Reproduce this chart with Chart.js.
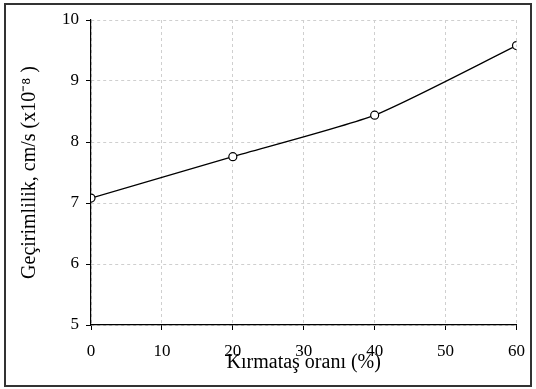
<!DOCTYPE html>
<html>
<head>
<meta charset="utf-8">
<script src="https://cdn.jsdelivr.net/npm/chart.js@4"></script>
<style>
  body { margin: 0; background: #fff; }
  #wrap { width: 536px; height: 389px; }
</style>
</head>
<body>
<div id="wrap"><canvas id="grafik" width="536" height="389"></canvas></div>
<script>
var oranlar = [0, 20, 40, 60];
var gecirimlilik = [7.08, 7.76, 8.44, 9.58];
var xTicks = [0, 10, 20, 30, 40, 50, 60];
var yTicks = [5, 6, 7, 8, 9, 10];

var serif = "'Liberation Serif', 'Times New Roman', serif";

// white page plus the dark frame around everything
var cerceve = {
    id: 'cerceve',
    beforeDraw: function(chart) {
        var ctx = chart.ctx;
        ctx.save();
        ctx.fillStyle = '#fff';
        ctx.fillRect(0, 0, chart.width, chart.height);
        ctx.restore();
    },
    afterDraw: function(chart) {
        var ctx = chart.ctx;
        ctx.save();
        ctx.strokeStyle = '#333';
        ctx.lineWidth = 2;
        ctx.strokeRect(5, 4, 526, 382);
        ctx.restore();
    }
};

var ctx = document.getElementById('grafik');
var chart = new Chart(ctx, {
    type: 'line',
    data: {
        datasets: [{
            data: oranlar.map(function(x, i) { return { x: x, y: gecirimlilik[i] }; }),
            borderColor: '#000',
            borderWidth: 1.2,
            tension: 0.2,
            pointRadius: 4,
            pointBackgroundColor: '#fff',
            pointBorderColor: '#000',
            pointBorderWidth: 1.2
        }]
    },
    options: {
        responsive: false,
        animation: false,
        layout: { padding: { left: 0, top: 20, right: 19, bottom: 0 } },
        plugins: {
            legend: { display: false },
            tooltip: { enabled: false }
        },
        scales: {
            x: {
                type: 'linear',
                min: 0,
                max: 60,
                afterFit: function(scale) { scale.height = 64; },
                afterBuildTicks: function(scale) {
                    scale.ticks = xTicks.map(function(v) { return { value: v }; });
                },
                grid: {
                    color: '#cfcfcf',
                    tickColor: '#000',
                    tickLength: 5,
                    tickBorderDash: [],
                    tickWidth: 1
                },
                border: { display: true, color: '#000', width: 1.2, dash: [3, 3] },
                ticks: {
                    color: '#000',
                    padding: 11,
                    maxRotation: 0,
                    font: { family: serif, size: 17 }
                },
                title: {
                    display: true,
                    text: 'Kırmataş oranı (%)',
                    color: '#000',
                    padding: { top: 0, bottom: 14 },
                    font: { family: serif, size: 20 }
                }
            },
            y: {
                min: 5,
                max: 10,
                afterFit: function(scale) { scale.width = 91; },
                afterBuildTicks: function(scale) {
                    scale.ticks = yTicks.map(function(v) { return { value: v }; });
                },
                grid: {
                    color: '#cfcfcf',
                    tickColor: '#000',
                    tickLength: 5,
                    tickBorderDash: [],
                    tickWidth: 1
                },
                border: { display: true, color: '#000', width: 1.2, dash: [3, 3] },
                ticks: {
                    color: '#000',
                    padding: 7,
                    font: { family: serif, size: 17 }
                },
                title: {
                    display: true,
                    text: 'Geçirimlilik, cm/s (x10⁻⁸ )',
                    color: '#000',
                    padding: { top: 18, bottom: 0 },
                    font: { family: serif, size: 20 }
                }
            }
        }
    },
    plugins: [cerceve]
});
</script>
</body>
</html>
